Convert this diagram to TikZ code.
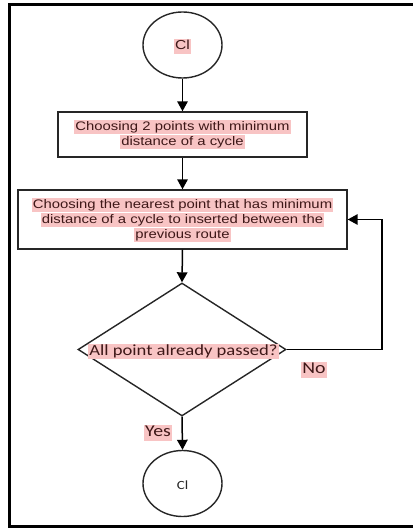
\documentclass[tikz,border=0pt]{standalone}
\usepackage{fontspec}
\setmainfont{Liberation Sans}
\newfontfamily\boxfont[FakeStretch=1.2]{Liberation Sans}
\newfontfamily\calfont[FakeStretch=1.2]{Carlito}
\usetikzlibrary{shapes.geometric,arrows.meta}
\definecolor{hlpink}{HTML}{F8C4C4}
\definecolor{txtred}{HTML}{3E1818}
\newcommand{\hlt}[1]{{\setlength{\fboxsep}{1.2pt}\colorbox{hlpink}{\vphantom{Ag}#1}}}
\tikzset{
  frame/.style={line width=3pt, black},
  shapeline/.style={draw=black!85, line width=1.4pt},
  ellip/.style={shapeline, ellipse, inner sep=0pt, minimum width=79pt, minimum height=66pt},
  procbox/.style={shapeline, rectangle, inner sep=0pt, fill=white},
  decis/.style={shapeline, diamond, inner sep=0pt, minimum width=208pt, minimum height=133pt},
  boxtext/.style={align=center, text=txtred, font=\boxfont\fontsize{12.4}{15}\selectfont},
  caltext/.style={text=txtred, inner sep=0pt, font=\calfont\fontsize{15.5}{18}\selectfont},
  arr/.style={line width=1.5pt, -{Triangle[length=10pt,width=10.5pt]}}
}
\begin{document}
\begin{tikzpicture}[x=1pt,y=-1pt]
\useasboundingbox (0,0) rectangle (412,529);
\draw[frame] (414,5) -- (9,5) -- (9,526) -- (414,526);

\node[ellip] (c1) at (182.5,45) {};
\node[text=txtred, inner sep=0pt, font=\boxfont\fontsize{13}{15}\selectfont] (c1t) at (182.5,46.5) {\hlt{Cl}};

\node[procbox, minimum width=249pt, minimum height=45pt] (b1) at (182.5,134.5) {};
\node[boxtext, inner sep=0pt] (b1t) at (182.5,134.5) {\hlt{Choosing 2 points with minimum}\\\hlt{distance of a cycle}};

\node[procbox, minimum width=329pt, minimum height=59pt] (b2) at (182.5,219.5) {};
\node[boxtext, inner sep=0pt] (b2t) at (182.5,220) {\hlt{Choosing the nearest point that has minimum}\\\hlt{distance of a cycle to inserted between the}\\\hlt{previous route}};

\node[decis] (d) at (182,349.5) {};
\node[caltext, font=\calfont\fontsize{15.5}{18}\selectfont] (dt) at (183.5,351.5) {\hlt{All point already passed?}};

\node[ellip] (c2) at (182.5,483.5) {};
\node[inner sep=0pt, text=black!85, font=\calfont\fontsize{12.5}{14}\selectfont] (c2t) at (182.5,485) {Cl};

\node[caltext, font=\calfont\fontsize{16.5}{18}\selectfont] (no) at (314,370) {\hlt{No}};
\node[caltext, font=\calfont\fontsize{16.5}{18}\selectfont] (yes) at (158,433) {\hlt{Yes}};

\coordinate (fb) at (382,219.5);
\draw[arr] (c1.south) -- (b1.north);
\draw[arr] (b1.south) -- (b2.north);
\draw[arr] (b2.south) -- (d.north);
\draw[arr] (d.south) -- (c2.north);
\draw[arr] (d.east) -| (fb) -- (b2.east);
\end{tikzpicture}
\end{document}
